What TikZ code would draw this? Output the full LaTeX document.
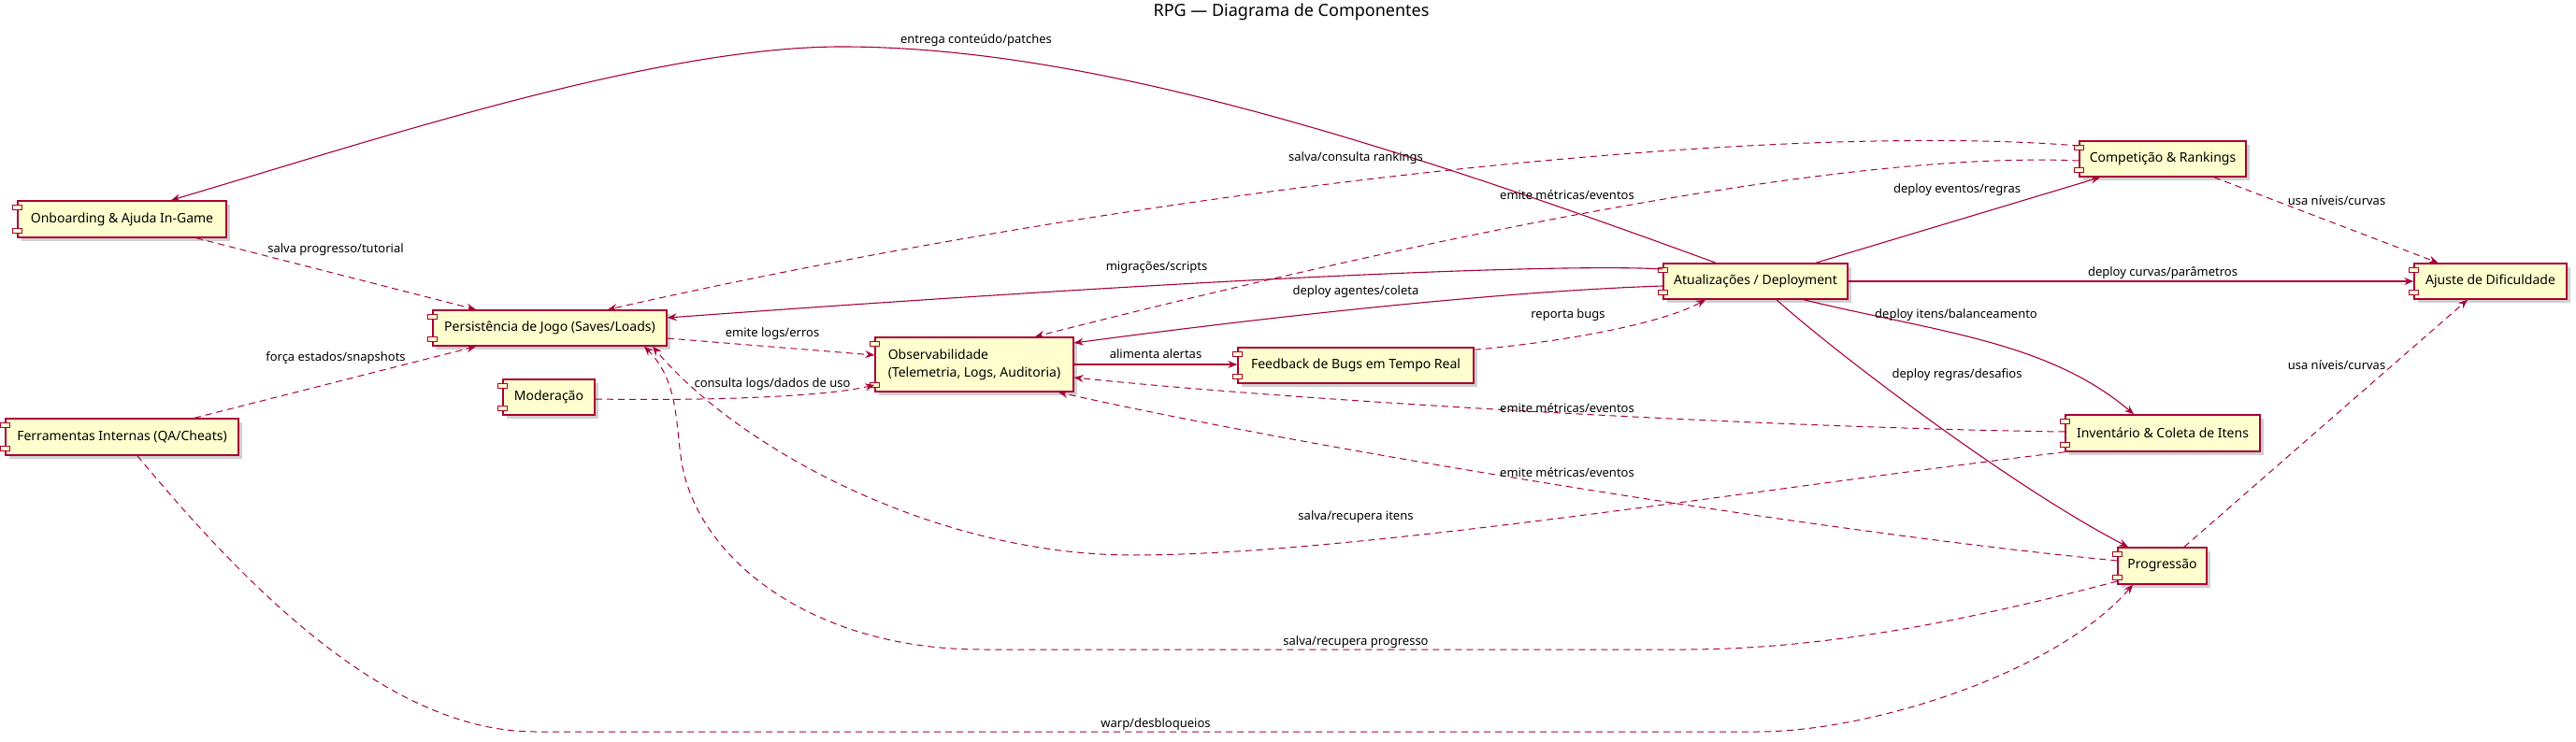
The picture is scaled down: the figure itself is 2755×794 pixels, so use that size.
\documentclass[tikz,border=0pt]{standalone}
\usepackage{fontspec}
\setmainfont{Noto Sans}
\usetikzlibrary{arrows.meta,shadows}
\definecolor{pborder}{RGB}{168,0,54}
\definecolor{pfill}{RGB}{254,254,206}
\tikzset{
  compbox/.style={draw=pborder, fill=pfill, line width=1.5pt, minimum height=38pt, inner sep=0pt,
    font=\fontsize{14}{19}\selectfont,
    drop shadow={shadow xshift=4pt, shadow yshift=-4pt, opacity=0.3, fill=black!60}},
  iconbox/.style={draw=pborder, fill=pfill, line width=1pt},
  conn/.style={draw=pborder, line width=1.1pt, -{Stealth[length=10pt,width=8pt,inset=3.5pt]}},
  dconn/.style={conn, line width=1pt, dash pattern=on 7pt off 5pt},
  lbl/.style={font=\fontsize{13}{16}\selectfont, inner sep=0pt},
}
\begin{document}
\begin{tikzpicture}[x=1pt,y=-1pt]
\useasboundingbox[fill=white] (0,0) rectangle (2755,794);

\node[font=\fontsize{18}{22}\selectfont] (title) at (1381,13) {RPG — Diagrama de Componentes};

\node[compbox, minimum width=223pt, minimum height=39pt] (onb) at (130.5,234.5) {Onboarding \& Ajuda In-Game};
\node[compbox, minimum width=250pt] (per) at (588,351) {Persistência de Jogo (Saves/Loads)};
\node[compbox, minimum width=98pt] (mod) at (587,425) {Moderação};
\node[compbox, minimum width=249pt, minimum height=39pt] (fer) at (130.5,467.5) {Ferramentas Internas (QA/Cheats)};
\node[compbox, minimum width=212pt, minimum height=58pt, align=left] (obs) at (1042,390) {Observabilidade\\(Telemetria, Logs, Auditoria)};
\node[compbox, minimum width=252pt] (fb) at (1450,391) {Feedback de Bugs em Tempo Real};
\node[compbox, minimum width=197pt] (atu) at (1877.5,301) {Atualizações / Deployment};
\node[compbox, minimum width=178pt] (cmp) at (2313,170) {Competição \& Rankings};
\node[compbox, minimum width=163pt] (aju) at (2663.5,301) {Ajuste de Dificuldade};
\node[compbox, minimum width=208pt, minimum height=39pt] (inv) at (2313,463.5) {Inventário \& Coleta de Itens};
\node[compbox, minimum width=95pt, minimum height=39pt] (pro) at (2312.5,605.5) {Progressão};

\foreach \n in {onb,per,mod,fer,obs,fb,atu,cmp,aju,inv,pro}{
  \draw[iconbox] ([xshift=-5pt,yshift=-5pt]\n.north west) rectangle ++(10pt,-5pt);
  \draw[iconbox] ([xshift=-5pt,yshift=5pt]\n.south west) rectangle ++(10pt,5pt);
}

% E1 atu -> onb
\draw[conn] ([xshift=-42.5pt]atu.north) .. controls (1450,140) and (1150,50) .. (900,50)
  .. controls (700,50) and (400,150) .. ([xshift=52.5pt]onb.north);
\node[lbl] (l1) at (1044,43) {entrega conteúdo/patches};

% E2 cmp -> per
\draw[dconn] ([yshift=14pt]cmp.west) .. controls (1900,130) and (1250,196) .. ([xshift=62pt]per.north);
\node[lbl] (l2) at (1450,169) {salva/consulta rankings};

% E3 cmp -> obs
\draw[dconn] ([yshift=-2pt]cmp.west) .. controls (1950,160) and (1454,272) .. ([xshift=65pt]obs.north);
\node[lbl] (l3) at (1676,209) {emite métricas/eventos};

% E4 atu -> per
\draw[conn] ([yshift=13pt]atu.west) .. controls (1700,283) and (1400,290) .. ([yshift=11pt]per.east);
\node[lbl] (l4) at (1237,286) {migrações/scripts};

% E5 atu -> obs
\draw[conn] ([yshift=-5pt]atu.west) .. controls (1600,312) and (1350,340) .. ([yshift=23pt]obs.east);
\node[lbl] (l5) at (1450,312) {deploy agentes/coleta};

% E6 obs -> fb
\draw[conn] (obs.east) -- (obs.east -| fb.west);
\node[lbl] (l6) at (1236,379) {alimenta alertas};

% E7 fb -> atu
\draw[dconn] ([yshift=-3pt]fb.north east) .. controls (1680,365) and (1780,345) .. ([xshift=-53.5pt]atu.south);
\node[lbl] (l7) at (1677,337) {reporta bugs};

% E8 atu -> cmp
\draw[conn] ([xshift=64.5pt]atu.north) -- ([xshift=-67pt]cmp.south);
\node[lbl] (l8) at (2093,203) {deploy eventos/regras};

% E9 atu -> aju
\draw[conn] (atu.east) -- (aju.west);
\node[lbl] (l9) at (2313,292) {deploy curvas/parâmetros};

% E10 cmp -> aju
\draw[dconn] ([xshift=55pt]cmp.south) -- ([xshift=-56pt]aju.north);
\node[lbl] (l10) at (2499,215) {usa níveis/curvas};

% E11 atu -> inv
\draw[conn] ([xshift=51.5pt]atu.south) .. controls (2070,355) and (2190,365) .. ([xshift=-31pt]inv.north);
\node[lbl] (l11) at (2092,337) {deploy itens/balanceamento};

% E12 atu -> pro
\draw[conn] ([xshift=22.5pt]atu.south) .. controls (1960,375) and (2150,520) .. ([xshift=-36.5pt]pro.north);
\node[lbl] (l12) at (2093,401) {deploy regras/desafios};

% E13 pro -> aju
\draw[dconn] ([xshift=23.5pt]pro.north) -- ([xshift=-24.5pt]aju.south);
\node[lbl] (l13) at (2499,391) {usa níveis/curvas};

% E14 inv -> obs
\draw[dconn] ([yshift=1.5pt]inv.west) .. controls (1900,458) and (1400,430) .. ([yshift=-14pt]obs.east);
\node[lbl] (l14) at (1676,437) {emite métricas/eventos};

% E15 pro -> obs
\draw[dconn] ([yshift=5.5pt]pro.west) .. controls (1950,570) and (1400,480) .. ([xshift=90pt]obs.south);
\node[lbl] (l15) at (1676,506) {emite métricas/eventos};

% E16 inv -> per
\draw[dconn] (inv.south west) .. controls (1900,520) and (1450,594) .. (1212,594)
  .. controls (1000,594) and (790,480) .. ([xshift=110pt]per.south);
\node[lbl] (l16) at (1450,553) {salva/recupera itens};

% E17 fer -> pro
\draw[dconn] ([xshift=16.5pt]fer.south) .. controls (277,645) and (423,783) .. (573,783)
  -- (1880,783) .. controls (2000,783) and (2200,720) .. ([xshift=-31.5pt]pro.south);
\node[lbl] (l17) at (1236,775) {warp/desbloqueios};

% E18 fer -> per
\draw[dconn] ([xshift=77.5pt]fer.north) -- ([xshift=-79pt]per.south);
\node[lbl] (l18) at (359,383) {força estados/snapshots};

% E19 onb -> per
\draw[dconn] ([xshift=79.5pt]onb.south) -- ([xshift=-79pt]per.north);
\node[lbl] (l19) at (359,267) {salva progresso/tutorial};

% E20 per -> obs
\draw[dconn] ([yshift=-11pt]per.east) -- ([yshift=10pt]obs.west);
\node[lbl] (l20) at (826,357) {emite logs/erros};

% E21 mod -> obs
\draw[dconn] ([yshift=-2pt]mod.east) .. controls (750,429) and (880,425) .. ([yshift=-22pt]obs.west);
\node[lbl] (l21) at (826,411) {consulta logs/dados de uso};

% E22 pro -> per
\draw[dconn] ([yshift=-16.5pt]pro.west) .. controls (2100,665) and (1950,695) .. (1800,695)
  -- (1050,695) .. controls (870,695) and (750,600) .. (730,500)
  .. controls (722,460) and (728,410) .. ([xshift=101pt]per.south);
\node[lbl] (l22) at (1450,687) {salva/recupera progresso};
\end{tikzpicture}
\end{document}
